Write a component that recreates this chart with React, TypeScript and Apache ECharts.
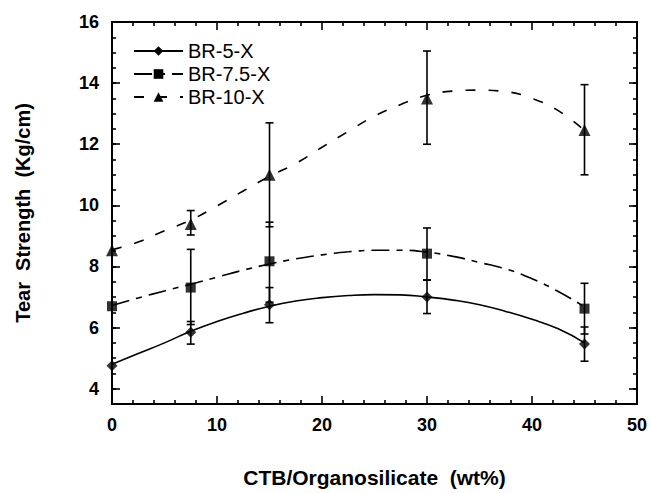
import React, { useEffect, useRef } from "react";
import * as echarts from "echarts";

// Measured points (x = CTB/Organosilicate wt%)
const xPoints = [0, 7.5, 15, 30, 45];
const br5Values = [4.75, 5.85, 6.75, 7.0, 5.46];
const br5Low = [null, 5.46, 6.16, 6.46, 4.9];
const br5High = [null, 6.2, 7.31, 7.55, 6.02];
const br75Values = [6.7, 7.31, 8.17, 8.42, 6.62];
const br75Low = [null, 6.1, 6.83, 7.56, 5.79];
const br75High = [null, 8.56, 9.45, 9.26, 7.45];
const br10Values = [8.53, 9.39, 11.0, 13.5, 12.47];
const br10Low = [null, 9.03, 9.3, 12.0, 11.0];
const br10High = [null, 9.83, 12.7, 15.05, 13.95];

// Fitted trend curves
const fitX = [0, 2.5, 5, 7.5, 10, 12.5, 15, 17.5, 20, 22.5, 25, 27.5, 30, 32.5, 35, 37.5, 40, 42.5, 45];
const br5Fit = [4.8, 5.15, 5.5, 5.88, 6.2, 6.47, 6.7, 6.87, 6.98, 7.05, 7.08, 7.07, 7.0, 6.9, 6.75, 6.53, 6.27, 5.96, 5.5];
const br75Fit = [6.72, 6.97, 7.2, 7.42, 7.65, 7.88, 8.08, 8.25, 8.38, 8.48, 8.53, 8.53, 8.47, 8.33, 8.13, 7.92, 7.6, 7.18, 6.68];
const br10Fit = [8.55, 8.8, 9.17, 9.52, 9.98, 10.47, 10.95, 11.37, 11.9, 12.42, 12.92, 13.3, 13.6, 13.74, 13.77, 13.72, 13.5, 13.1, 12.45];

const seriesNames = ["BR-5-X", "BR-7.5-X", "BR-10-X"];
const yTicks = [4, 6, 8, 10, 12, 14, 16];
const xMin = 0, xMax = 50, xStep = 10;
const yMin = 3.5, yMax = 16, yMinorStep = 0.5;

const FONT = "'Liberation Sans', Arial, sans-serif";

function pairs(xs: number[], ys: number[]) {
  return xs.map((x, i) => [x, ys[i]]);
}
function bars(lo: (number | null)[], hi: (number | null)[]) {
  const out: number[][] = [];
  xPoints.forEach((x, i) => {
    if (lo[i] != null && hi[i] != null) out.push([x, lo[i] as number, hi[i] as number]);
  });
  return out;
}

const errRender = (params: any, api: any) => {
  const x = api.value(0);
  const pLo = api.coord([x, api.value(1)]);
  const pHi = api.coord([x, api.value(2)]);
  const w = 4;
  const style = { stroke: "#000", lineWidth: 1.6 };
  return {
    type: "group",
    children: [
      { type: "line", shape: { x1: pLo[0], y1: pLo[1], x2: pHi[0], y2: pHi[1] }, style },
      { type: "line", shape: { x1: pLo[0] - w, y1: pLo[1], x2: pLo[0] + w, y2: pLo[1] }, style },
      { type: "line", shape: { x1: pHi[0] - w, y1: pHi[1], x2: pHi[0] + w, y2: pHi[1] }, style },
    ],
  };
};

export default function App() {
  const ref = useRef<HTMLDivElement>(null);
  useEffect(() => {
    if (!ref.current) return;
    const chart = echarts.init(ref.current, undefined, { renderer: "svg" });
    const black = "#000";
    const axisLine = { show: true, onZero: false, lineStyle: { color: black, width: 1.8 } };
    const labelStyle = { color: black, fontFamily: FONT, fontWeight: "bold" as const, fontSize: 18 };
    const fitLine = (name: string, data: number[], symbol: string, type: any) => ({
      name,
      type: "line",
      data: pairs(fitX, data),
      smooth: true,
      symbol,
      showSymbol: false,
      symbolSize: 10,
      itemStyle: { color: black },
      lineStyle: { color: black, width: 1.6, type },
      z: 2,
    });
    const scatter = (name: string, data: number[], symbol: string, size: number) => ({
      name: name + " pts",
      type: "scatter",
      data: pairs(xPoints, data),
      symbol,
      symbolSize: size,
      itemStyle: { color: black },
      z: 4,
    });
    const errSeries = (name: string, lo: any[], hi: any[]) => ({
      name: name + " err",
      type: "custom",
      renderItem: errRender,
      data: bars(lo, hi),
      encode: { x: 0, y: [1, 2] },
      z: 3,
    });
    chart.setOption({
      animation: false,
      backgroundColor: "#fff",
      grid: { left: 112, right: 14, top: 22, bottom: 85, containLabel: false },
      legend: {
        data: seriesNames,
        orient: "vertical",
        left: 133,
        top: 41,
        padding: 0,
        itemWidth: 49,
        itemHeight: 12,
        itemGap: 3,
        textStyle: { color: black, fontFamily: FONT, fontSize: 20, lineHeight: 20 },
      },
      xAxis: [
        {
          type: "value",
          position: "bottom",
          min: xMin,
          max: xMax,
          interval: xStep,
          axisLine,
          axisTick: { show: true, inside: true, length: 8, lineStyle: { color: black, width: 1.6 } },
          minorTick: { show: true, splitNumber: 5, length: 4, lineStyle: { color: black, width: 1.6 } },
          splitLine: { show: false },
          minorSplitLine: { show: false },
          axisLabel: { ...labelStyle, margin: 12 },
          name: "CTB/Organosilicate  (wt%)",
          nameLocation: "middle",
          nameGap: 63,
          nameTextStyle: { ...labelStyle, fontSize: 21 },
        },
        {
          type: "value",
          position: "top",
          min: xMin,
          max: xMax,
          interval: xStep,
          axisLine,
          axisTick: { show: true, inside: true, length: 8, lineStyle: { color: black, width: 1.6 } },
          minorTick: { show: true, splitNumber: 5, length: 4, lineStyle: { color: black, width: 1.6 } },
          splitLine: { show: false },
          axisLabel: { show: false },
        },
      ],
      yAxis: [
        {
          type: "value",
          position: "left",
          min: yMin,
          max: yMax,
          axisLine,
          axisTick: { show: true, inside: true, length: 8, customValues: yTicks, lineStyle: { color: black, width: 1.6 } },
          splitLine: { show: false },
          axisLabel: { ...labelStyle, margin: 13, customValues: yTicks },
          name: "Tear  Strength  (Kg/cm)",
          nameLocation: "middle",
          nameGap: 79,
          nameTextStyle: { ...labelStyle, fontSize: 20 },
        },
        {
          type: "value",
          position: "left",
          min: yMin,
          max: yMax,
          interval: yMinorStep,
          axisLine,
          axisTick: { show: true, inside: true, length: 4, lineStyle: { color: black, width: 1.6 } },
          splitLine: { show: false },
          axisLabel: { show: false },
        },
        {
          type: "value",
          position: "right",
          min: yMin,
          max: yMax,
          axisLine,
          axisTick: { show: true, inside: true, length: 8, customValues: yTicks, lineStyle: { color: black, width: 1.6 } },
          splitLine: { show: false },
          axisLabel: { show: false },
        },
        {
          type: "value",
          position: "right",
          min: yMin,
          max: yMax,
          interval: yMinorStep,
          axisLine,
          axisTick: { show: true, inside: true, length: 4, lineStyle: { color: black, width: 1.6 } },
          splitLine: { show: false },
          axisLabel: { show: false },
        },
      ],
      series: [
        fitLine(seriesNames[0], br5Fit, "diamond", "solid"),
        fitLine(seriesNames[1], br75Fit, "rect", [18, 7, 6, 7]),
        fitLine(seriesNames[2], br10Fit, "triangle", [10, 13]),
        errSeries(seriesNames[0], br5Low, br5High),
        errSeries(seriesNames[1], br75Low, br75High),
        errSeries(seriesNames[2], br10Low, br10High),
        scatter(seriesNames[0], br5Values, "diamond", 11),
        scatter(seriesNames[1], br75Values, "rect", 10),
        scatter(seriesNames[2], br10Values, "triangle", 12),
      ],
    });
    return () => chart.dispose();
  }, []);
  return (
    <div
      ref={ref}
      style={{ position: "fixed", left: 0, top: 0, width: 651, height: 493, background: "#fff" }}
    />
  );
}
